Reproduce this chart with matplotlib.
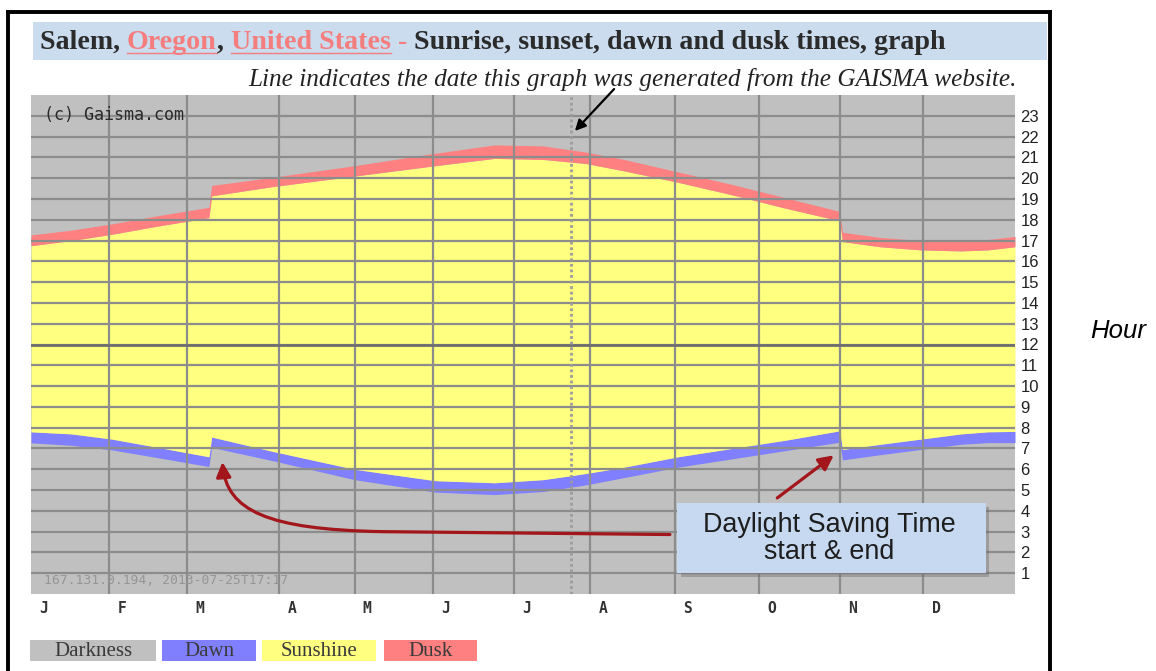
import matplotlib
matplotlib.use("Agg")
import matplotlib.pyplot as plt
from matplotlib.patches import Rectangle, FancyArrowPatch
from matplotlib.path import Path
from matplotlib.lines import Line2D

# day of year (2013) and times in hours
days = [0, 15, 30, 45, 66, 67, 90, 120, 150, 172, 190, 206, 220, 240,
        260, 280, 300, 301, 315, 330, 345, 355, 365]
dusk = [17.27, 17.5, 17.8, 18.15, 18.6, 19.65, 20.05, 20.6, 21.2, 21.6, 21.55,
        21.25, 20.9, 20.3, 19.7, 19.05, 18.4, 17.4, 17.15, 17.0, 16.97, 17.05, 17.2]
sunset = [16.75, 17.0, 17.3, 17.65, 18.1, 19.15, 19.6, 20.1, 20.6, 20.95, 20.9,
          20.7, 20.35, 19.8, 19.2, 18.55, 17.95, 16.95, 16.7, 16.55, 16.5, 16.55, 16.7]
sunrise = [7.8, 7.7, 7.45, 7.1, 6.6, 7.55, 6.85, 6.0, 5.45, 5.35, 5.5,
           5.8, 6.1, 6.6, 7.0, 7.4, 7.85, 6.95, 7.2, 7.45, 7.7, 7.8, 7.82]
dawn = [7.27, 7.15, 6.93, 6.6, 6.13, 7.05, 6.4, 5.5, 4.9, 4.78, 4.93,
        5.25, 5.6, 6.1, 6.5, 6.9, 7.3, 6.45, 6.7, 6.95, 7.2, 7.28, 7.28]

months = ["J", "F", "M", "A", "M", "J", "J", "A", "S", "O", "N", "D"]
month_edges = [0, 29, 58, 92, 120, 149, 179, 207.5, 239, 270, 300, 331]
hours = list(range(1, 24))
generated_day = 200.4

legend_names = ["Darkness", "Dawn", "Sunshine", "Dusk"]

GRAY = "#c0c0c0"
BLUE = "#8080ff"
YELLOW = "#ffff80"
PINK = "#ff8080"
SALMON = "#f47d7d"
DARK = "#2b2b2b"
RED = "#a3161c"

W, H = 1156, 671


def fx(x):
    return x / W


def fy(y):
    return 1 - y / H


fig = plt.figure(figsize=(W / 100, H / 100), dpi=100)
renderer = fig.canvas.get_renderer()


def text_width(s, **kw):
    t = fig.text(0, 0, s, **kw)
    w = t.get_window_extent(renderer).width
    t.remove()
    return w


def prefix_width(s, **kw):
    return text_width(s + "x", **kw) - text_width("x", **kw)


def fit_size(s, target, **kw):
    return 10 * target / text_width(s, fontsize=10, **kw)


# frame
for xs, ys in [((8, 8), (12, 680)), ((8, 1050), (12, 12)), ((1050, 1050), (12, 680))]:
    fig.add_artist(Line2D([fx(v) for v in xs], [fy(v) for v in ys], color="black",
                          lw=2.8, transform=fig.transFigure))

# title bar
fig.add_artist(Rectangle((fx(33), fy(60)), fx(1047) - fx(33), fy(22) - fy(60),
                         transform=fig.transFigure, color="#cadcee", lw=0))
pieces = [("Salem, ", DARK, False), ("Oregon", SALMON, True), (", ", DARK, False),
          ("United States", SALMON, True), (" - ", SALMON, False),
          ("Sunrise, sunset, dawn and dusk times, graph", DARK, False)]
tkw = dict(family="Liberation Serif", weight="bold")
full = "".join(p[0] for p in pieces)
tsize = fit_size(full, 910, **tkw)
x0 = 40
done = ""
for s, c, under in pieces:
    xs = x0 + prefix_width(done, fontsize=tsize, **tkw) if done else x0
    fig.text(fx(xs), fy(49), s, color=c, fontsize=tsize, va="baseline", **tkw)
    if under:
        w = text_width(s, fontsize=tsize, **tkw)
        fig.add_artist(Line2D([fx(xs), fx(xs + w)], [fy(53), fy(53)], color=c, lw=1,
                              transform=fig.transFigure))
    done += s

skw = dict(family="Liberation Serif", style="italic")
sub = "Line indicates the date this graph was generated from the GAISMA website."
fig.text(fx(1017), fy(86), sub, ha="right", va="baseline", color="#222222",
         fontsize=fit_size(sub, 770, **skw), **skw)

# chart
ax = fig.add_axes([fx(31), fy(594), fx(1015) - fx(31), fy(95) - fy(594)])
ax.set_facecolor(GRAY)
ax.fill_between(days, dawn, sunrise, color=BLUE, lw=0, zorder=1)
ax.fill_between(days, sunrise, sunset, color=YELLOW, lw=0, zorder=1)
ax.fill_between(days, sunset, dusk, color=PINK, lw=0, zorder=1)
ax.set_xlim(0, 365)
ax.set_ylim(0, 24)
for sp in ax.spines.values():
    sp.set_visible(False)

ax.set_yticks(hours)
ax.set_yticklabels([str(h) for h in hours], family="Liberation Sans", fontsize=12,
                   color="#222222")
ax.yaxis.tick_right()
ax.set_xticks(month_edges[1:], labels=[""] * (len(month_edges) - 1))
ax.set_xticks([e + 4.7 for e in month_edges], minor=True)
ax.set_xticklabels(months, minor=True, family="DejaVu Sans Mono", fontsize=10.5,
                   weight="bold", color="#333333")
ax.tick_params(axis="both", which="both", length=0)
ax.tick_params(axis="y", pad=4)
ax.tick_params(axis="x", which="minor", pad=5)
ax.grid(True, which="major", color="#8c8c8c", lw=1.6, zorder=2)
ax.axhline(12, color="#6e6e6e", lw=2, zorder=2.6)
ax.axvline(generated_day, color="#9c9c9c", lw=2, ls=(0, (1, 1)), zorder=3)

ax.text(0.013, 23.05, "(c) Gaisma.com", transform=ax.get_yaxis_transform(),
        va="center", family="DejaVu Sans Mono", fontsize=12, color="#2a2a2a", zorder=4)
ax.text(0.013, 0.65, "167.131.0.194, 2013-07-25T17:17", transform=ax.get_yaxis_transform(),
        va="center", family="DejaVu Sans Mono", fontsize=9.4, color="#959595", zorder=4)

# black arrow to the date line
fig.add_artist(FancyArrowPatch((fx(616), fy(87)), (fx(573), fy(133)),
                               transform=fig.transFigure, arrowstyle="-|>",
                               mutation_scale=16, color="black", lw=1.6))

# red DST arrows
verts = [(237, 2.86), (130, 3.0), (88, 3.1), (72.5, 4.0), (71.0, 6.35)]
codes = [Path.MOVETO, Path.LINETO, Path.CURVE4, Path.CURVE4, Path.CURVE4]
ax.add_patch(FancyArrowPatch(path=Path(verts, codes), arrowstyle="-|>",
                             mutation_scale=22, color=RED, lw=2.3, zorder=5))
ax.add_patch(FancyArrowPatch((276, 4.54), (298.6, 6.75), arrowstyle="-|>",
                             mutation_scale=22, color=RED, lw=2.3, zorder=5))

# DST note box
fig.add_artist(Rectangle((fx(681), fy(577)), fx(989) - fx(681), fy(507) - fy(577),
                         transform=fig.transFigure, color="#666666", alpha=0.4, lw=0))
fig.add_artist(Rectangle((fx(677), fy(573)), fx(986) - fx(677), fy(503) - fy(573),
                         transform=fig.transFigure, color="#c6d9f0", lw=0))
bkw = dict(family="Liberation Sans")
bsize = fit_size("Daylight Saving Time", 253, **bkw)
fig.text(fx(829), fy(532), "Daylight Saving Time", ha="center", va="baseline",
         fontsize=bsize, color="#1e1e1e", **bkw)
fig.text(fx(829), fy(559), "start & end", ha="center", va="baseline",
         fontsize=bsize, color="#1e1e1e", **bkw)

# legend boxes
legend_colors = [GRAY, BLUE, YELLOW, PINK]
boxes = [(30, 156), (162, 256), (262, 376), (384, 477)]
lkw = dict(family="Liberation Serif")
lsize = fit_size("Darkness", 78, **lkw)
for name, col, (l, r) in zip(legend_names, legend_colors, boxes):
    fig.add_artist(Rectangle((fx(l), fy(661)), fx(r) - fx(l), fy(640) - fy(661),
                             transform=fig.transFigure, color=col, lw=0))
    fig.text(fx((l + r) / 2), fy(651), name, ha="center", va="center",
             fontsize=lsize, color="#3a3a3a", **lkw)

fig.text(fx(1118), fy(331), "Hour", ha="center", va="center", family="Liberation Sans",
         style="italic", fontsize=18.5, color="black")

fig.savefig("out.png", dpi=100)
